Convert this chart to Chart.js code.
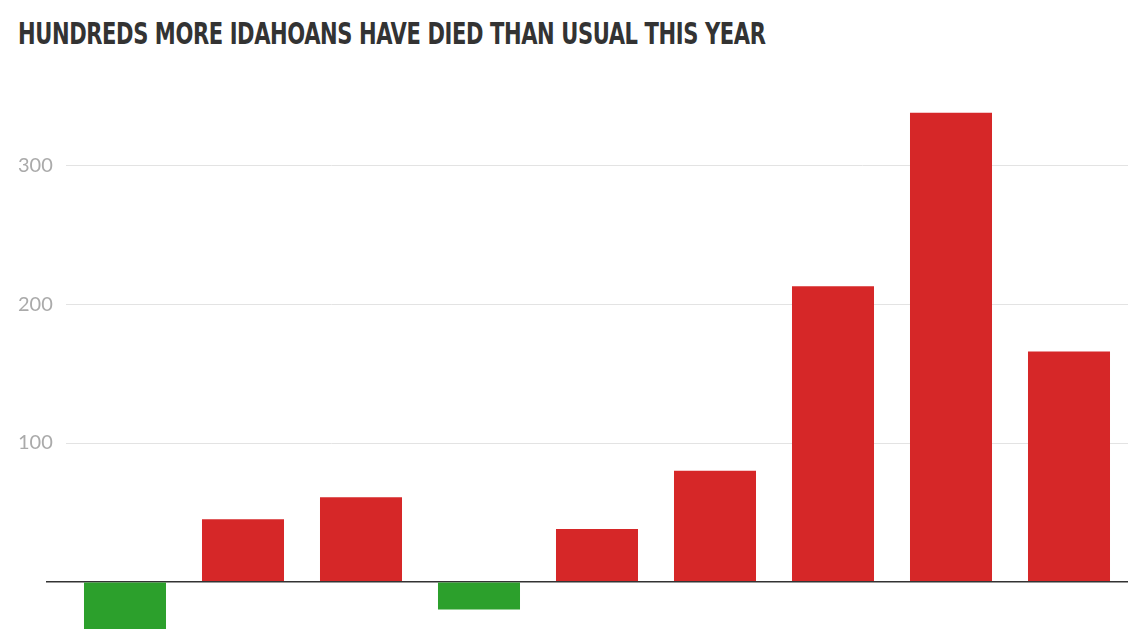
<!DOCTYPE html>
<html>
<head>
<meta charset="utf-8">
<script src="https://cdn.jsdelivr.net/npm/chart.js@4"></script>
<style>
  html, body { margin: 0; padding: 0; background: #fff; overflow: hidden; }
  #wrap { position: relative; width: 1140px; height: 641px; }
  h1 {
    position: absolute; left: 18px; top: 16px; margin: 0;
    font-family: "DejaVu Sans Condensed", "DejaVu Sans", sans-serif;
    font-weight: bold; font-size: 30px; color: #333; letter-spacing: -0.5px;
    transform: scaleX(0.78); transform-origin: left top; white-space: nowrap;
  }
  canvas { position: absolute; left: 0; top: 0; }
</style>
</head>
<body>
<div id="wrap">
  <h1>HUNDREDS MORE IDAHOANS HAVE DIED THAN USUAL THIS YEAR</h1>
  <canvas id="chart" width="1140" height="641"></canvas>
</div>
<script>
/* Excess deaths by period */
const categories = ["1", "2", "3", "4", "5", "6", "7", "8", "9"];
const excessDeaths = [-60, 45, 61, -20, 38, 80, 213, 338, 166];
const yTicks = [0, 100, 200, 300];

const GREEN = "#2ca02c";
const RED = "#d62728";

const colors = excessDeaths.map(v => v < 0 ? GREEN : RED);

new Chart(document.getElementById("chart"), {
    type: "bar",
    data: {
        labels: categories,
        datasets: [{
            data: excessDeaths,
            backgroundColor: colors,
            categoryPercentage: 1,
            barPercentage: 0.695,
        }]
    },
    options: {
        responsive: false,
        animation: false,
        layout: { padding: { left: 18, right: 12, top: 96, bottom: 0 } },
        plugins: { legend: { display: false }, tooltip: { enabled: false } },
        scales: {
            x: { display: false },
            y: {
                min: -34,
                max: 350,
                afterBuildTicks: (scale) => {
                    scale.ticks = yTicks.map(v => ({ value: v }));
                },
                afterFit: (scale) => { scale.width = 48; },
                border: { display: false },
                grid: {
                    color: (ctx) => ctx.tick && ctx.tick.value === 0 ? "#333" : "#e3e3e3",
                    lineWidth: (ctx) => ctx.tick && ctx.tick.value === 0 ? 1.5 : 1,
                    drawTicks: true,
                    tickLength: 20,
                    tickColor: (ctx) => ctx.tick && ctx.tick.value === 0 ? "#333" : "rgba(0,0,0,0)",
                },
                ticks: {
                    crossAlign: "far",
                    padding: 0,
                    color: "#aaa",
                    font: { family: "Lato, sans-serif", size: 20 },
                    callback: (v) => v === 0 ? "" : v,
                }
            }
        }
    }
});
</script>
</body>
</html>
